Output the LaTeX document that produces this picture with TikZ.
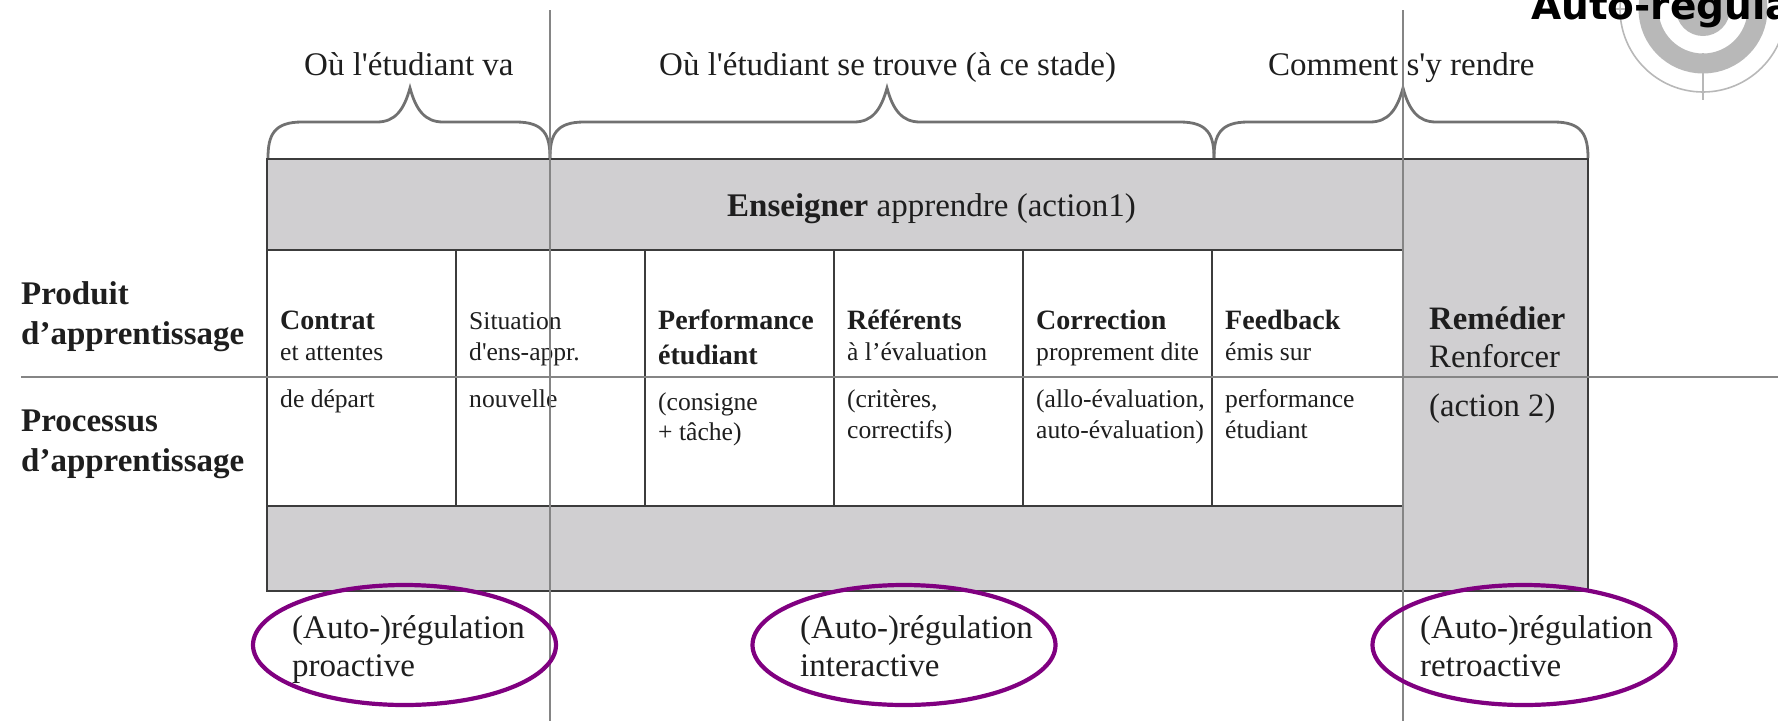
\documentclass[tikz,border=0pt]{standalone}
\usepackage{fontspec}
\setmainfont[Ligatures=TeXOff]{Liberation Serif}
\newfontfamily\logofont{DejaVu Sans}
\usepackage{tikz}
\usetikzlibrary{shapes.geometric}
\definecolor{boxgray}{HTML}{D0CFD1}
\definecolor{framegray}{HTML}{3C3C3C}
\definecolor{rulegray}{HTML}{858585}
\definecolor{ringgray}{HTML}{B8B8B8}
\definecolor{ovalpurple}{HTML}{800080}
\definecolor{txtgray}{HTML}{1E1E1E}
\tikzset{
  lbl/.style={anchor=base west,inner sep=0pt,text=txtgray},
  headlbl/.style={lbl,font=\fontsize{33}{33}\selectfont},
  enslbl/.style={lbl,font=\fontsize{33}{33}\selectfont},
  sidelbl/.style={lbl,font=\fontsize{33}{33}\selectfont\bfseries},
  celltitle/.style={lbl,font=\fontsize{28}{28}\selectfont\bfseries},
  celltxt/.style={lbl,font=\fontsize{25.6}{25.6}\selectfont},
  bigtxt/.style={lbl,font=\fontsize{32.7}{32.7}\selectfont},
  regtxt/.style={lbl,font=\fontsize{33}{33}\selectfont},
  oval/.style={ellipse,draw=ovalpurple,line width=4.2pt,minimum width=303pt,minimum height=120pt,inner sep=0pt},
  curly/.style={draw=rulegray!85!black,line width=2.8pt},
  gridline/.style={draw=framegray,line width=2.8pt},
  guide/.style={draw=rulegray,line width=2.7pt}
}
\newcommand\curlybrace[3]{%
  \draw[curly] (#1,158) .. controls (#1,135) and (#1+6,122) .. (#1+34,122)
    -- (#2-33,122) .. controls (#2-15,122) and (#2-6,110) .. (#2,88)
    .. controls (#2+6,110) and (#2+15,122) .. (#2+33,122)
    -- (#3-34,122) .. controls (#3-6,122) and (#3,135) .. (#3,158);}
\begin{document}
\begin{tikzpicture}[x=1pt,y=-1pt]

  \newcommand\X{189}

  \useasboundingbox (0,0) rectangle (1778,721);

  %% logo in the corner
  \begin{scope}
    \clip (1500,0) rectangle (1778,721);
    \draw[ringgray,line width=1.6pt] (1703,9) circle (83);
    \draw[ringgray,line width=20pt] (1703,9) circle (54.5);
    \fill[ringgray] (1703,9) circle (27);
    \draw[ringgray,line width=1.6pt] (1703,53) -- (1703,100);
    \draw[ringgray,line width=1.6pt] (1612,9) -- (1632,9);
    \node[anchor=base west,inner sep=0pt,text=black,font=\fontsize{39}{39}\selectfont\logofont\bfseries] (logo) at (1531,19) {Auto-régula};
  \end{scope}

  %% grey frame and white cells
  \draw[gridline,fill=boxgray] (267,159) rectangle (1588,591);
  \draw[gridline,fill=white] (267,250) rectangle (1403,506);
  \foreach \i in {1,...,5}
    \draw[gridline] (267+\i*\X,250) -- (267+\i*\X,506);

  %% braces
  \curlybrace{268}{410}{550}
  \curlybrace{550}{887}{1214}
  \curlybrace{1214}{1403}{1588}

  %% top labels
  \node[headlbl] (head1) at (304,75) {Où l'étudiant va};
  \node[headlbl] (head2) at (659,75) {Où l'étudiant se trouve (à ce stade)};
  \node[headlbl] (head3) at (1268,75) {Comment s'y rendre};
  \node[enslbl] (ens) at (727,216) {\textbf{Enseigner} apprendre (action1)};

  %% left labels
  \node[sidelbl] (prod1) at (21,304) {Produit};
  \node[sidelbl] (prod2) at (21,344) {d’apprentissage};
  \node[sidelbl] (proc1) at (21,431) {Processus};
  \node[sidelbl] (proc2) at (21,471) {d’apprentissage};

  %% cells
  \node[celltitle] (c1a) at (280,329) {Contrat};
  \node[celltxt] (c1b) at (280,360) {et attentes};
  \node[celltxt] (c1c) at (280,407) {de départ};

  \node[celltxt] (c2a) at (469,329) {Situation};
  \node[celltxt] (c2b) at (469,360) {d'ens-appr.};
  \node[celltxt] (c2c) at (469,407) {nouvelle};

  \node[celltitle] (c3a) at (658,329) {Performance};
  \node[celltitle] (c3b) at (658,364) {étudiant};
  \node[celltxt] (c3c) at (658,410) {(consigne};
  \node[celltxt] (c3d) at (658,440) {+ tâche)};

  \node[celltitle] (c4a) at (847,329) {Référents};
  \node[celltxt] (c4b) at (847,360) {à l’évaluation};
  \node[celltxt] (c4c) at (847,407) {(critères,};
  \node[celltxt] (c4d) at (847,438) {correctifs)};

  \node[celltitle] (c5a) at (1036,329) {Correction};
  \node[celltxt] (c5b) at (1036,360) {proprement dite};
  \node[celltxt] (c5c) at (1036,407) {(allo-évaluation,};
  \node[celltxt] (c5d) at (1036,438) {auto-évaluation)};

  \node[celltitle] (c6a) at (1225,329) {Feedback};
  \node[celltxt] (c6b) at (1225,360) {émis sur};
  \node[celltxt] (c6c) at (1225,407) {performance};
  \node[celltxt] (c6d) at (1225,438) {étudiant};

  \node[bigtxt] (rem1) at (1429,329) {\textbf{Remédier}};
  \node[bigtxt] (rem2) at (1429,367) {Renforcer};
  \node[bigtxt] (rem3) at (1429,416) {(action 2)};

  %% bottom labels
  \node[regtxt] (reg1a) at (292,638) {(Auto-)régulation};
  \node[regtxt] (reg1b) at (292,676) {proactive};
  \node[regtxt] (reg2a) at (800,638) {(Auto-)régulation};
  \node[regtxt] (reg2b) at (800,676) {interactive};
  \node[regtxt] (reg3a) at (1420,638) {(Auto-)régulation};
  \node[regtxt] (reg3b) at (1420,676) {retroactive};

  %% guide lines
  \coordinate (v1top) at (550,10);
  \coordinate (v1bot) at (550,721);
  \coordinate (v2top) at (1403,10);
  \coordinate (v2bot) at (1403,721);
  \coordinate (hleft) at (21,377);
  \coordinate (hright) at (1778,377);
  \draw[guide] (v1top) -- (v1bot);
  \draw[guide] (v2top) -- (v2bot);
  \draw[guide] (hleft) -- (hright);

  %% ovals
  \node[oval] (oval1) at (404.5,645) {};
  \node[oval] (oval2) at (904,645) {};
  \node[oval] (oval3) at (1524,645) {};

\end{tikzpicture}
\end{document}
